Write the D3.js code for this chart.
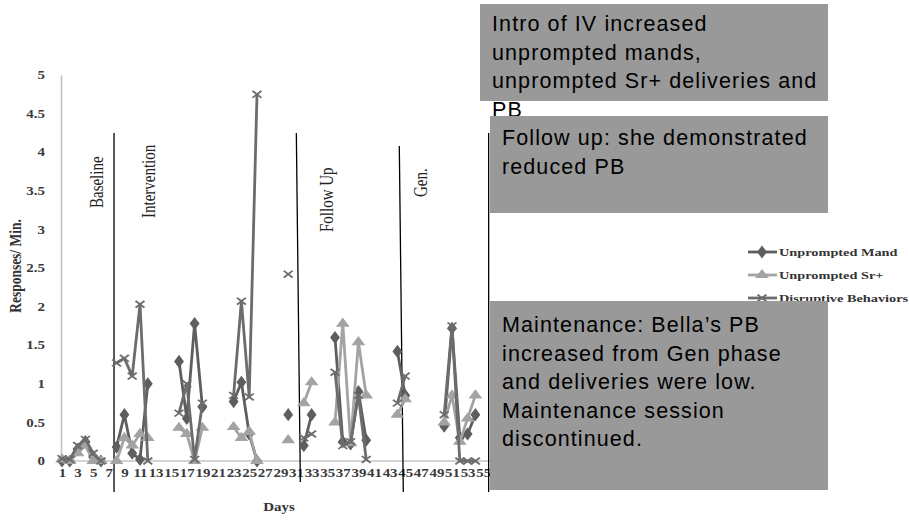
<!DOCTYPE html>
<html><head><meta charset="utf-8">
<script src="https://cdn.jsdelivr.net/npm/d3@7"></script>
<style>body{margin:0;background:#fff} svg{display:block}</style>
</head><body>
<svg id="c" width="909" height="525"></svg>
<script>
// ---------------- DATA ----------------
const days = [1,2,3,4,5,6,7,8,9,10,11,12,13,14,15,16,17,18,19,20,21,22,23,24,25,26,27,28,29,30,
  31,32,33,34,35,36,37,38,39,40,41,42,43,44,45,46,47,48,49,50,51,52,53,54,55];
const xTickLabels = ["1","3","5","7","9","11","13","15","17","19","21","23","25","27","29","31","33","35",
  "37","39","41","43","45","47","49","51","53","55","57","59","61"];
const yTickValues = [0,0.5,1,1.5,2,2.5,3,3.5,4,4.5,5];
const yTickLabels = ["0","0.5","1","1.5","2","2.5","3","3.5","4","4.5","5"];
const seriesNames = ["Unprompted Mand","Unprompted Sr+","Disruptive Behaviors"];
const N = null;
// days 1..55
const mandValues = [0.0,0.0,0.15,0.25,0.05,0.0,N, 0.18,0.6,0.1,0.02,1.0, N,N,N, 1.29,0.55,1.78,0.7, N,N,N,
  0.77,1.02,0.35,0.0, N,N,N, 0.6, N, 0.2,0.6, N,N, 1.6,0.25,0.22,0.9,0.27, N,N,N, 1.42,0.85, N,N,N,N,
  0.45,1.72,0.3,0.35,0.6, N];
const srValues = [0.02,0.0,0.1,0.2,0.0,0.0,N, 0.0,0.3,0.2,0.35,0.3, N,N,N, 0.43,0.35,0.0,0.43, N,N,N,
  0.44,0.3,0.38,0.0, N,N,N, 0.27, N, 0.75,1.02, N,N, 0.5,1.78,0.23,1.54,0.85, N,N,N, 0.6,0.8, N,N,N,N,
  0.5,0.85,0.25,0.55,0.85, N];
const pbValues = [0.03,0.02,0.2,0.28,0.1,0.0,N, 1.27,1.33,1.1,2.03,0.0, N,N,N, 0.62,1.0,0.02,0.75, N,N,N,
  0.85,2.07,0.83,4.75, N,N,N, 2.42, N, 0.3,0.35, N,N, 1.15,0.2,0.25,0.85,0.02, N,N,N, 0.75,1.1, N,N,N,N,
  0.6,1.75,0.0,0.0,0.0, N];
const phaseNames = ["Baseline","Intervention","Follow Up","Gen."];
const phaseChangeDays = [7.67, 31.3, 44.5, 55.7];
const notes = [
  ["Intro of IV increased","unprompted mands,","unprompted Sr+ deliveries and","PB"],
  ["Follow up: she demonstrated","reduced PB"],
  ["Maintenance: Bella\u2019s PB","increased from Gen phase","and deliveries were low.","Maintenance session","discontinued."]
];

// ---------------- DRAW ----------------
const svg = d3.select("#c");
svg.append("rect").attr("width",909).attr("height",525).attr("fill","#fff");
const SERIF = "'Liberation Serif','DejaVu Serif',serif";
const SANS = "'Liberation Sans',Arial,sans-serif";
const STRETCH = 1.3;
function stretchText(sel){
  sel.each(function(){
    const w = this.getComputedTextLength();
    this.setAttribute("textLength", w*STRETCH);
    this.setAttribute("lengthAdjust","spacingAndGlyphs");
  });
}

const x = d3.scaleLinear().domain([1,61]).range([62, 62+60*7.8]);
const y = d3.scaleLinear().domain([0,5]).range([461,75]);

// y axis
const gy = svg.append("g").attr("transform","translate(61,0)")
  .call(d3.axisLeft(y).tickValues(yTickValues).tickSize(0).tickSizeOuter(0).tickPadding(16)
    .tickFormat((d,i)=>yTickLabels[i]));
gy.select(".domain").attr("stroke","#c4c4c4").attr("stroke-width",1.6);
gy.selectAll("text").attr("font-family",SERIF).attr("font-weight","bold").attr("font-size",11.5)
  .attr("fill","#3a3a3a").call(stretchText);

// x axis
const gx = svg.append("g").attr("transform","translate(0,461)")
  .call(d3.axisBottom(x).tickValues(xTickLabels.map(Number)).tickSize(0).tickSizeOuter(0).tickPadding(8)
    .tickFormat((d,i)=>xTickLabels[i]));
gx.select(".domain").attr("stroke","#c4c4c4").attr("stroke-width",1.6).attr("d","M61,0H540");
gx.selectAll("text").attr("font-family",SERIF).attr("font-weight","bold").attr("font-size",11.5)
  .attr("fill","#3a3a3a").call(stretchText);

// axis titles
svg.append("text").text("Responses/ Min.")
  .attr("transform","translate(21,266) rotate(-90) scale(1,"+STRETCH+")")
  .attr("text-anchor","middle").attr("font-family",SERIF).attr("font-weight","bold")
  .attr("font-size",13.5).attr("fill","#333");
svg.append("text").text("Days").attr("x",279).attr("y",511).attr("text-anchor","middle")
  .attr("font-family",SERIF).attr("font-weight","bold").attr("font-size",11.5).attr("fill","#333")
  .call(stretchText);

// phase change lines
const lineTops = [133,133,146,133], lineBottoms = [492,482,492,492];
phaseChangeDays.forEach((d,i)=>{
  svg.append("line").attr("x1",x(d)-(i===1||i===2?2:0)).attr("x2",x(d)+(i===1||i===2?2:0))
    .attr("y1",lineTops[i]).attr("y2",lineBottoms[i])
    .attr("stroke","#000").attr("stroke-width",1.3);
});
// phase labels (rotated)
const phaseLabelDay = [6.2, 12.9, 35.8, 47.8];
const phaseLabelBottom = [208, 218, 232, 197];
phaseNames.forEach((t,i)=>{
  svg.append("text").text(t)
    .attr("transform",`translate(${x(phaseLabelDay[i])},${phaseLabelBottom[i]}) rotate(-90) scale(1,${STRETCH})`)
    .attr("font-family",SERIF).attr("font-size",15).attr("fill","#222");
});

// series
const colors = ["#5e5e5e","#a3a3a3","#6c6c6c"];
const markers = ["diamond","triangle","x"];
const valuesList = [mandValues, srValues, pbValues];
function markerPath(type){
  if(type==="diamond") return d3.symbol(d3.symbolDiamond, 36)();
  if(type==="triangle") return d3.symbol(d3.symbolTriangle, 34)();
  return "M-3.4,-3.4L3.4,3.4M-3.4,3.4L3.4,-3.4";
}
const line = d3.line().defined(d=>d.v!==null).x(d=>x(d.day)).y(d=>y(d.v));
valuesList.forEach((vals,si)=>{
  const pts = days.map((d,i)=>({day:d, v: vals[i]}));
  const g = svg.append("g");
  g.append("path").datum(pts).attr("d",line).attr("fill","none")
    .attr("stroke",colors[si]).attr("stroke-width",2.8).attr("stroke-linejoin","round");
  g.selectAll("path.m").data(pts.filter(p=>p.v!==null)).join("path").attr("class","m")
    .attr("d",markerPath(markers[si]))
    .attr("transform",p=>`translate(${x(p.day)},${y(p.v)}) scale(${STRETCH},1)`)
    .attr("fill",markers[si]==="x"?"none":colors[si])
    .attr("stroke",colors[si]).attr("stroke-width",markers[si]==="x"?1.6:1);
});

// legend
const legY = [252, 275, 298];
seriesNames.forEach((name,i)=>{
  const g = svg.append("g");
  g.append("line").attr("x1",748).attr("x2",777).attr("y1",legY[i]).attr("y2",legY[i])
    .attr("stroke",colors[i]).attr("stroke-width",2.8);
  g.append("path").attr("d",markerPath(markers[i]))
    .attr("transform",`translate(762,${legY[i]}) scale(${STRETCH},1)`)
    .attr("fill",markers[i]==="x"?"none":colors[i]).attr("stroke",colors[i])
    .attr("stroke-width",markers[i]==="x"?1.6:1);
  g.append("text").text(name).attr("x",779).attr("y",legY[i]+4)
    .attr("font-family",SERIF).attr("font-weight","bold").attr("font-size",11).attr("fill","#333")
    .call(stretchText);
});

// annotation boxes
const boxes = [
  {x:480,y:4,w:348,h:97,tx:492,ty:31},
  {x:490,y:116,w:338,h:97,tx:502,ty:145},
  {x:490,y:301,w:338,h:189,tx:502,ty:332}
];
notes.forEach((lines,i)=>{
  const b = boxes[i];
  svg.append("rect").attr("x",b.x).attr("y",b.y).attr("width",b.w).attr("height",b.h).attr("fill","#999999");
  lines.forEach((t,j)=>{
    svg.append("text").text(t).attr("x",b.tx).attr("y",b.ty+j*28.6)
      .attr("font-family",SANS).attr("font-size",21.5).attr("letter-spacing","1.1px").attr("fill","#000");
  });
});
</script>
</body></html>
